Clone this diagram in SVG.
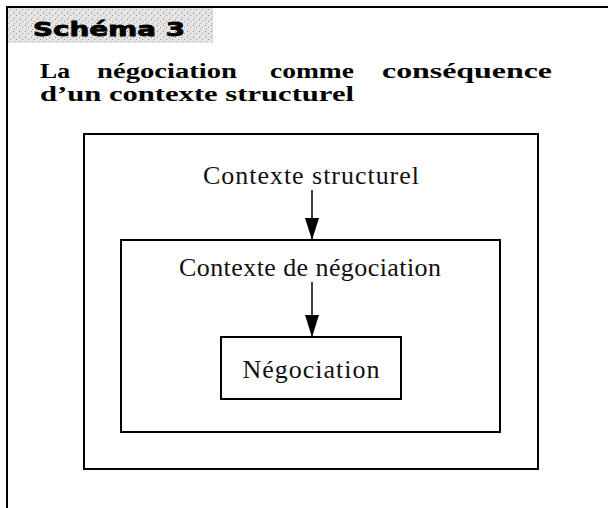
<svg xmlns="http://www.w3.org/2000/svg" width="608" height="508" viewBox="0 0 608 508">
<style>
.frame{stroke:#000;stroke-width:2;fill:none}
.box{stroke:#000;stroke-width:2;fill:none}
.lbl{font-family:"Liberation Serif","Times New Roman",serif;font-size:26px;fill:#111;text-anchor:middle}
.ttl{font-family:"Liberation Serif","Times New Roman",serif;font-weight:bold;font-size:20.5px;fill:#000}
.hdr{font-family:"DejaVu Sans","Liberation Sans",sans-serif;font-weight:bold;font-size:20px;fill:#000;stroke:#000;stroke-width:0.8}
.conn{stroke:#000;stroke-width:1.5;fill:none}
</style>
<defs>
<marker id="ah" viewBox="0 0 22 14" refX="22" refY="7" markerWidth="22" markerHeight="14" markerUnits="userSpaceOnUse" orient="auto">
<path d="M0,0 L22,7 L0,14 Z" fill="#000"/>
</marker>
<pattern id="speck" width="6" height="6" patternUnits="userSpaceOnUse">
<rect width="6" height="6" fill="#e4e4e4"/>
<rect x="1" y="1" width="1" height="1" fill="#888"/>
<rect x="4" y="3" width="1" height="1" fill="#999"/>
<rect x="2" y="5" width="1" height="1" fill="#aaa"/>
</pattern>
</defs>
<rect width="608" height="508" fill="#fff"/>
<g id="frame">
<line class="frame" x1="6" y1="7" x2="608" y2="7"/>
<line class="frame" x1="7" y1="6" x2="7" y2="508"/>
</g>
<g id="header">
<rect x="8" y="8" width="205" height="35" fill="url(#speck)"/>
<text class="hdr" x="33" y="36" textLength="152" lengthAdjust="spacingAndGlyphs">Schéma 3</text>
</g>
<g id="title">
<text class="ttl" x="40" y="78" textLength="30" lengthAdjust="spacingAndGlyphs">La</text>
<text class="ttl" x="97" y="78" textLength="140" lengthAdjust="spacingAndGlyphs">négociation</text>
<text class="ttl" x="270" y="78" textLength="84" lengthAdjust="spacingAndGlyphs">comme</text>
<text class="ttl" x="382" y="78" textLength="170" lengthAdjust="spacingAndGlyphs">conséquence</text>
<text class="ttl" x="40" y="101" textLength="314" lengthAdjust="spacingAndGlyphs">d’un contexte structurel</text>
</g>
<g id="contexte-structurel">
<rect class="box" x="84" y="134" width="454" height="335"/>
<text class="lbl" x="311" y="184" textLength="216" lengthAdjust="spacing">Contexte structurel</text>
</g>
<g id="contexte-negociation">
<rect class="box" x="121" y="240" width="379" height="192"/>
<text class="lbl" x="310" y="276" textLength="262" lengthAdjust="spacing">Contexte de négociation</text>
</g>
<g id="negociation">
<rect class="box" x="221" y="337" width="180" height="62"/>
<text class="lbl" x="311" y="378" textLength="137" lengthAdjust="spacing">Négociation</text>
</g>
<g id="connectors">
<line class="conn" x1="312" y1="190" x2="312" y2="240" marker-end="url(#ah)"/>
<line class="conn" x1="312" y1="282" x2="312" y2="337" marker-end="url(#ah)"/>
</g>
</svg>
